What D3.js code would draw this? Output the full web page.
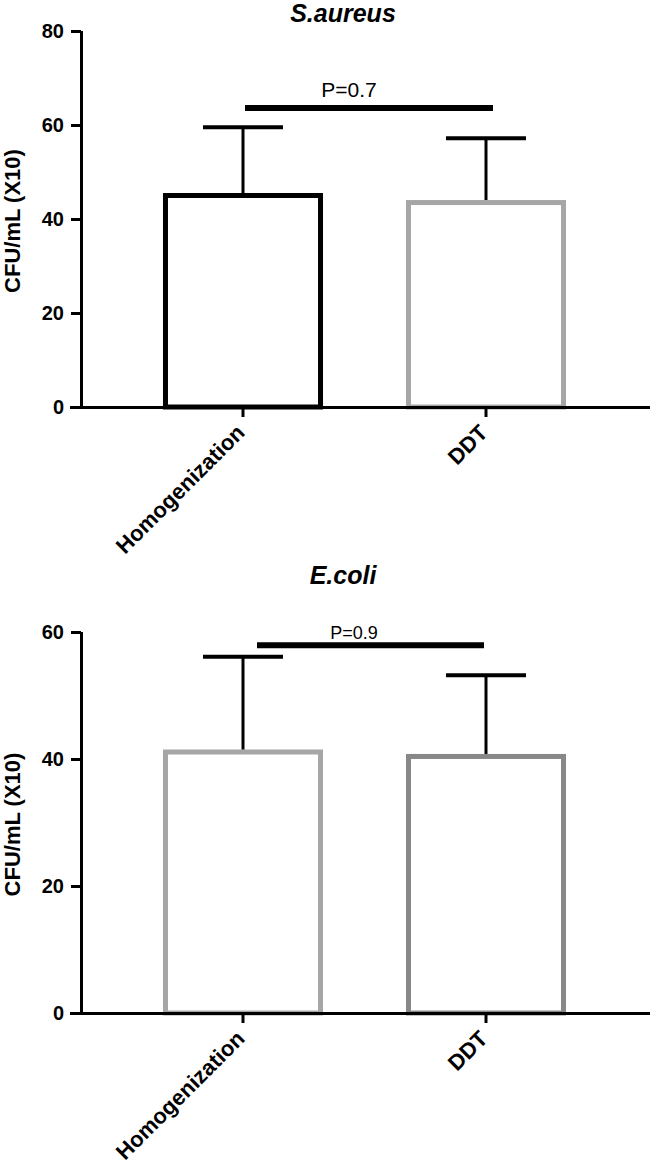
<!DOCTYPE html>
<html>
<head>
<meta charset="utf-8">
<script src="https://cdn.jsdelivr.net/npm/d3@7"></script>
<style>
  html, body { margin: 0; padding: 0; background: #fff; }
  svg { display: block; }
  text { font-family: "Liberation Sans", Arial, Helvetica, sans-serif; }
</style>
</head>
<body>
<svg id="chart" width="650" height="1165"></svg>
<script>
// ---- DATA ----
const categories = ["Homogenization", "DDT"];

const saureusTitle = "S.aureus";
const saureusMean = [45.0, 43.5];
const saureusSD = [14.5, 13.7];
const saureusTicks = [0, 20, 40, 60, 80];
const saureusP = "P=0.7";
const saureusPLevel = 63.6;

const ecoliTitle = "E.coli";
const ecoliMean = [41.1, 40.4];
const ecoliSD = [15.0, 12.8];
const ecoliTicks = [0, 20, 40, 60];
const ecoliP = "P=0.9";
const ecoliPLevel = 57.9;

const yLabel = "CFU/mL (X10)";

// ---- LAYOUT / STYLE ----
const svg = d3.select("#chart");

const panels = [
  {
    title: saureusTitle, mean: saureusMean, sd: saureusSD, ticks: saureusTicks,
    p: saureusP, pLevel: saureusPLevel,
    yMax: 80, top: 31, bottom: 407, titleY: 22,
    colors: ["#000000", "#a6a6a6"],
    sig: { x0: 245, x1: 493, labelX: 349, labelSize: 21, gap: 11 }
  },
  {
    title: ecoliTitle, mean: ecoliMean, sd: ecoliSD, ticks: ecoliTicks,
    p: ecoliP, pLevel: ecoliPLevel,
    yMax: 60, top: 632, bottom: 1013, titleY: 584,
    colors: ["#a6a6a6", "#888888"],
    sig: { x0: 257, x1: 484, labelX: 354, labelSize: 18, gap: 6 }
  }
];

const axisX = 81;
const x = d3.scaleBand()
  .domain(categories)
  .range([121.5, 607.5])
  .paddingInner(0.362)
  .paddingOuter(0.181);

panels.forEach(pn => {
  const g = svg.append("g");
  const y = d3.scaleLinear().domain([0, pn.yMax]).range([pn.bottom, pn.top]);

  // Title
  g.append("text")
    .attr("x", 343).attr("y", pn.titleY)
    .attr("text-anchor", "middle")
    .attr("font-size", 25).attr("font-weight", "bold").attr("font-style", "italic")
    .text(pn.title);

  // Y label
  g.append("text")
    .attr("transform", `translate(20,${(pn.top + pn.bottom) / 2 + 2}) rotate(-90)`)
    .attr("text-anchor", "middle")
    .attr("font-size", 22).attr("font-weight", "bold")
    .text(yLabel);

  // Bars
  const bw = x.bandwidth();
  g.selectAll("rect.bar").data(categories).join("rect")
    .attr("class", "bar")
    .attr("x", d => x(d))
    .attr("width", bw)
    .attr("y", (d, i) => y(pn.mean[i]))
    .attr("height", (d, i) => y(0) - y(pn.mean[i]))
    .attr("fill", "none")
    .attr("stroke", (d, i) => pn.colors[i])
    .attr("stroke-width", 5);

  // Error bars
  const cx = d => x(d) + bw / 2;
  g.selectAll("line.err").data(categories).join("line")
    .attr("class", "err")
    .attr("x1", cx).attr("x2", cx)
    .attr("y1", (d, i) => y(pn.mean[i]) - 2.5)
    .attr("y2", (d, i) => y(pn.mean[i] + pn.sd[i]))
    .attr("stroke", "#000").attr("stroke-width", 3);
  g.selectAll("line.cap").data(categories).join("line")
    .attr("class", "cap")
    .attr("x1", d => cx(d) - 40).attr("x2", d => cx(d) + 40)
    .attr("y1", (d, i) => y(pn.mean[i] + pn.sd[i]))
    .attr("y2", (d, i) => y(pn.mean[i] + pn.sd[i]))
    .attr("stroke", "#000").attr("stroke-width", 4);

  // Significance line
  g.append("line")
    .attr("x1", pn.sig.x0).attr("x2", pn.sig.x1)
    .attr("y1", y(pn.pLevel)).attr("y2", y(pn.pLevel))
    .attr("stroke", "#000").attr("stroke-width", 6);
  g.append("text")
    .attr("x", pn.sig.labelX).attr("y", y(pn.pLevel) - pn.sig.gap)
    .attr("text-anchor", "middle")
    .attr("font-size", pn.sig.labelSize)
    .text(pn.p);

  // Y axis
  const ya = g.append("g")
    .attr("transform", `translate(${axisX},0)`)
    .call(d3.axisLeft(y).tickValues(pn.ticks).tickSize(10).tickSizeOuter(0).tickPadding(7));
  ya.select(".domain").attr("stroke", "#000").attr("stroke-width", 3)
    .attr("d", `M0.5,${pn.top}V${pn.bottom}`);
  ya.selectAll(".tick line").attr("stroke", "#000").attr("stroke-width", 3);
  ya.selectAll(".tick text")
    .attr("font-size", 20).attr("font-weight", "bold").attr("fill", "#000")
    .attr("font-family", "'Liberation Sans', Arial, sans-serif");

  // X axis
  const xa = g.append("g")
    .attr("transform", `translate(0,${pn.bottom})`)
    .call(d3.axisBottom(x).tickSize(10).tickSizeOuter(0));
  xa.select(".domain").attr("stroke", "#000").attr("stroke-width", 3)
    .attr("d", `M70,0.5H650`);
  xa.selectAll(".tick line").attr("stroke", "#000").attr("stroke-width", 3);
  xa.selectAll(".tick text")
    .attr("font-size", 22).attr("font-weight", "bold").attr("fill", "#000")
    .attr("font-family", "'Liberation Sans', Arial, sans-serif")
    .attr("text-anchor", "end")
    .attr("x", 0).attr("y", 0).attr("dy", 0)
    .attr("transform", "translate(3,27) rotate(-45)");
});
</script>
</body>
</html>
